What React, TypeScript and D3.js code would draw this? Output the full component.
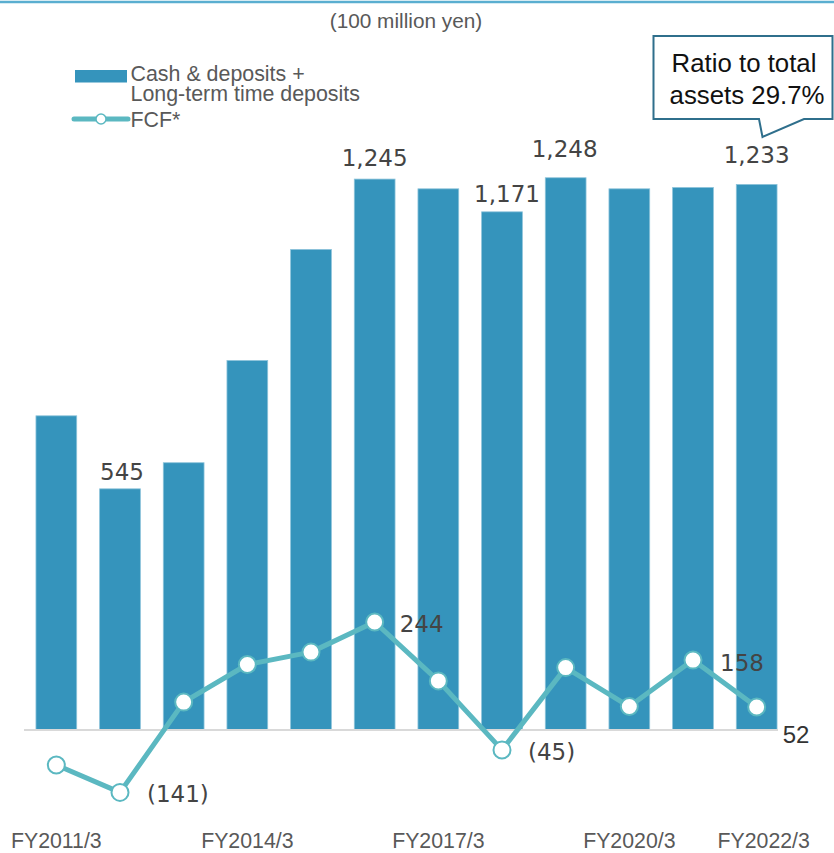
import React from "react";
import * as d3 from "d3";

const categories = ["FY2011/3","FY2012/3","FY2013/3","FY2014/3","FY2015/3","FY2016/3","FY2017/3","FY2018/3","FY2019/3","FY2020/3","FY2021/3","FY2022/3"];
const cashValues = [710, 545, 604, 835, 1086, 1245, 1223, 1171, 1248, 1223, 1226, 1233];
const fcfValues = [-79, -141, 63, 148, 176, 244, 111, -45, 141, 53, 158, 52];
const tickLabels = ["FY2011/3", "FY2014/3", "FY2017/3", "FY2020/3", "FY2022/3"];

// label annotations (index, text) and their offsets
const barLabels = [
  { i: 1, text: "545", dx: 2, dy: -9 },
  { i: 5, text: "1,245", dx: 0, dy: -13 },
  { i: 7, text: "1,171", dx: 5, dy: -10 },
  { i: 8, text: "1,248", dx: -1, dy: -21 },
  { i: 11, text: "1,233", dx: 0, dy: -21 },
];
const fcfLabels = [
  { i: 1, text: "(141)", dx: 27, dy: 10 },
  { i: 5, text: "244", dx: 25, dy: 10 },
  { i: 7, text: "(45)", dx: 26, dy: 10 },
  { i: 10, text: "158", dx: 27, dy: 11 },
];

const W = 834, H = 853;
const BAR = "#3594bc";
const LINE = "#5bb8c1";
const DEJAVU = "DejaVu Sans, Verdana, sans-serif";
const ARIAL = "Liberation Sans, Arial, sans-serif";

export default function App() {
  const x = d3.scaleBand<string>().domain(categories).range([24.5, 788.5]).paddingInner(0.36).paddingOuter(0.18);
  const y = d3.scaleLinear().domain([0, 1000]).range([730, 730 - 442.5]);
  const cx = (i: number) => (x(categories[i]) as number) + x.bandwidth() / 2;
  const line = d3.line<number>().x((_, i) => cx(i)).y((d) => y(d));

  return (
    <svg width={W} height={H} style={{ position: "absolute", left: 0, top: 0, background: "#fff" }}>
      <line x1={0} x2={W} y1={2} y2={2} stroke="#5aaed0" strokeWidth={2.5} />
      <text x={406} y={28} textAnchor="middle" fontFamily={ARIAL} fontSize={20.8} fill="#595959">(100 million yen)</text>

      {/* legend */}
      <rect x={75} y={70} width={52} height={12.5} fill={BAR} />
      <text x={130.5} y={81} fontFamily={ARIAL} fontSize={21.4} fill="#595959">Cash &amp; deposits +</text>
      <text x={130.5} y={100.5} fontFamily={ARIAL} fontSize={21.4} fill="#595959">Long-term time deposits</text>
      <line x1={74} x2={128} y1={119} y2={119} stroke={LINE} strokeWidth={5} strokeLinecap="round" />
      <circle cx={101} cy={119} r={5} fill="#fff" stroke={LINE} strokeWidth={1.5} />
      <text x={130.5} y={126.5} fontFamily={ARIAL} fontSize={21.4} fill="#595959">FCF*</text>

      {/* bars */}
      {cashValues.map((v, i) => (
        <rect key={i} x={x(categories[i])} y={y(v)} width={x.bandwidth()} height={y(0) - y(v)} fill={BAR} stroke="#8cc3da" strokeWidth={0.8} />
      ))}
      <line x1={24} x2={778} y1={y(0)} y2={y(0)} stroke="#d9d9d9" strokeWidth={2} />

      {barLabels.map((l) => (
        <text key={l.i} x={cx(l.i) + l.dx} y={y(cashValues[l.i]) + l.dy} textAnchor="middle" fontFamily={DEJAVU} fontSize={23} fill="#444">{l.text}</text>
      ))}

      {/* FCF line */}
      <path d={line(fcfValues) as string} fill="none" stroke={LINE} strokeWidth={5} strokeLinejoin="round" />
      {fcfValues.map((v, i) => (
        <circle key={i} cx={cx(i)} cy={y(v)} r={8.5} fill="#fff" stroke={LINE} strokeWidth={2} />
      ))}
      {fcfLabels.map((l) => (
        <text key={l.i} x={cx(l.i) + l.dx} y={y(fcfValues[l.i]) + l.dy} fontFamily={DEJAVU} fontSize={23} fill="#444">{l.text}</text>
      ))}
      <text x={cx(11) + 26} y={y(fcfValues[11]) + 36} fontFamily={ARIAL} fontSize={24} fill="#333">52</text>

      {/* x labels */}
      {tickLabels.map((t, k) => (
        <text key={t} x={cx(categories.indexOf(t)) + (k === tickLabels.length - 1 ? 7 : 0)} y={848} textAnchor="middle" fontFamily={ARIAL} fontSize={21.3} fill="#595959">{t}</text>
      ))}

      {/* callout */}
      <path d="M653.5,36 L832.5,36 L832.5,119 L804,119 L762.5,137 L759,119 L653.5,119 Z" fill="#fff" stroke="#2f6f8c" strokeWidth={2} />
      <text x={744} y={72} textAnchor="middle" fontFamily={ARIAL} fontSize={25.8} fill="#111">Ratio to total</text>
      <text x={747} y={104} textAnchor="middle" fontFamily={ARIAL} fontSize={25.8} fill="#111">assets 29.7%</text>
    </svg>
  );
}
